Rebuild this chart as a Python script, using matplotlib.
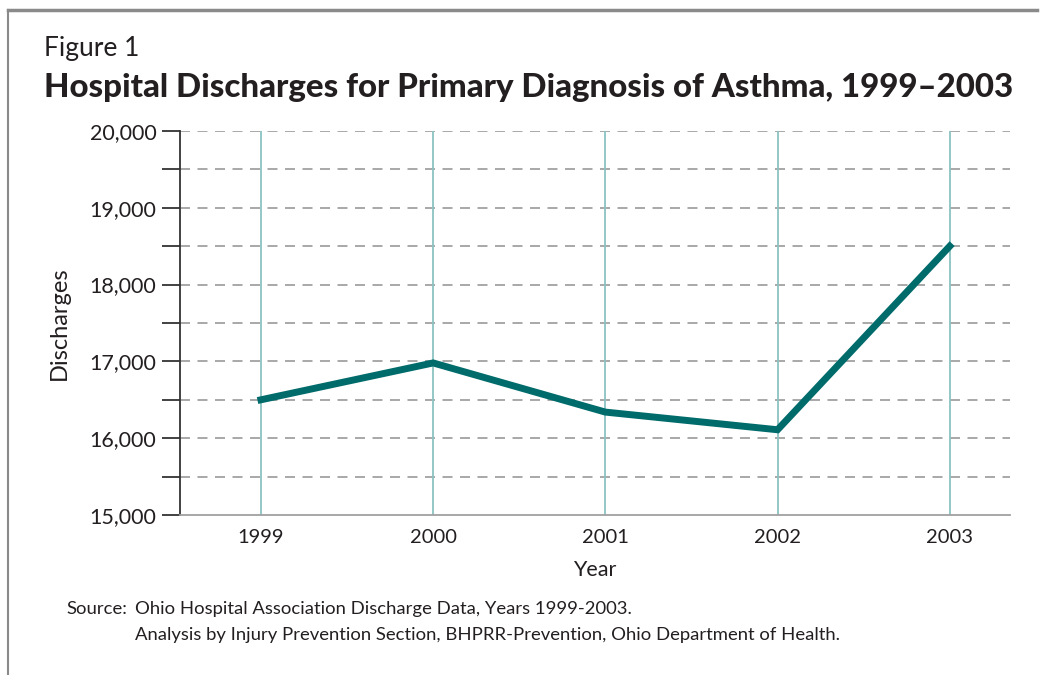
import matplotlib
matplotlib.use("Agg")
import matplotlib.pyplot as plt
from matplotlib.lines import Line2D
from matplotlib.ticker import MultipleLocator, FuncFormatter

years = [1999, 2000, 2001, 2002, 2003]
discharges = [16500, 16980, 16340, 16110, 18500]

plt.rcParams['font.family'] = ['Lato', 'DejaVu Sans']

fig = plt.figure(figsize=(10.46, 6.75), dpi=100)
ax = fig.add_axes([0.1721, 0.237, 0.9656 - 0.1721, 0.806 - 0.237])

# frame around the page (top and left only)
fig.add_artist(Line2D([8 / 1046, 8 / 1046], [0, 1 - 10 / 675], color='#8a8a8a', lw=1.5, transform=fig.transFigure))
fig.add_artist(Line2D([8 / 1046, 1037 / 1046], [1 - 10 / 675, 1 - 10 / 675], color='#8a8a8a', lw=2.5, transform=fig.transFigure))

ax.plot(years, discharges, color='#006b6b', lw=5, solid_joinstyle='miter', zorder=4)

ax.set_xlim(1998.53, 2003.35)
ax.set_ylim(15000, 20000)
ax.set_xticks(years)
ax.yaxis.set_major_locator(MultipleLocator(1000))
ax.yaxis.set_minor_locator(MultipleLocator(500))
ax.yaxis.set_major_formatter(FuncFormatter(lambda v, p: f"{int(v):,}"))

for y in range(15500, 20001, 500):
    ax.axhline(y, color='#9a9a9a', lw=1.2, dashes=(6, 4.5), zorder=1)
for x in years:
    ax.axvline(x, color='#8cc3c3', lw=1.3, zorder=2)

for s in ['top', 'right']:
    ax.spines[s].set_visible(False)
ax.spines['left'].set_color('#333333')
ax.spines['left'].set_linewidth(1.3)
ax.spines['bottom'].set_color('#a0a0a0')
ax.spines['bottom'].set_linewidth(1.3)

ax.tick_params(axis='y', which='both', length=13, width=1.3, color='#333333', labelsize=15.5, labelcolor='#231f20', pad=4)
ax.tick_params(axis='x', length=0, labelsize=14.5, labelcolor='#231f20', pad=10)
ax.set_xlabel('Year', fontsize=15.5, color='#231f20', labelpad=10)
ax.set_ylabel('Discharges', fontsize=17, color='#231f20', labelpad=14)

fig.text(44 / 1046, 1 - 56 / 675, 'Figure 1', fontsize=19, color='#231f20')
fig.text(44 / 1046, 1 - 97 / 675, 'Hospital Discharges for Primary Diagnosis of Asthma, 1999\u20132003',
         fontsize=23.8, fontweight='black', color='#231f20')

fig.text(66 / 1046, 1 - 614 / 675, 'Source:', fontsize=13.3, color='#231f20')
fig.text(135 / 1046, 1 - 614 / 675, 'Ohio Hospital Association Discharge Data, Years 1999-2003.', fontsize=13.3, color='#231f20')
fig.text(135 / 1046, 1 - 640 / 675, 'Analysis by Injury Prevention Section, BHPRR-Prevention, Ohio Department of Health.',
         fontsize=13.3, color='#231f20')

fig.savefig('out.png', dpi=100)
